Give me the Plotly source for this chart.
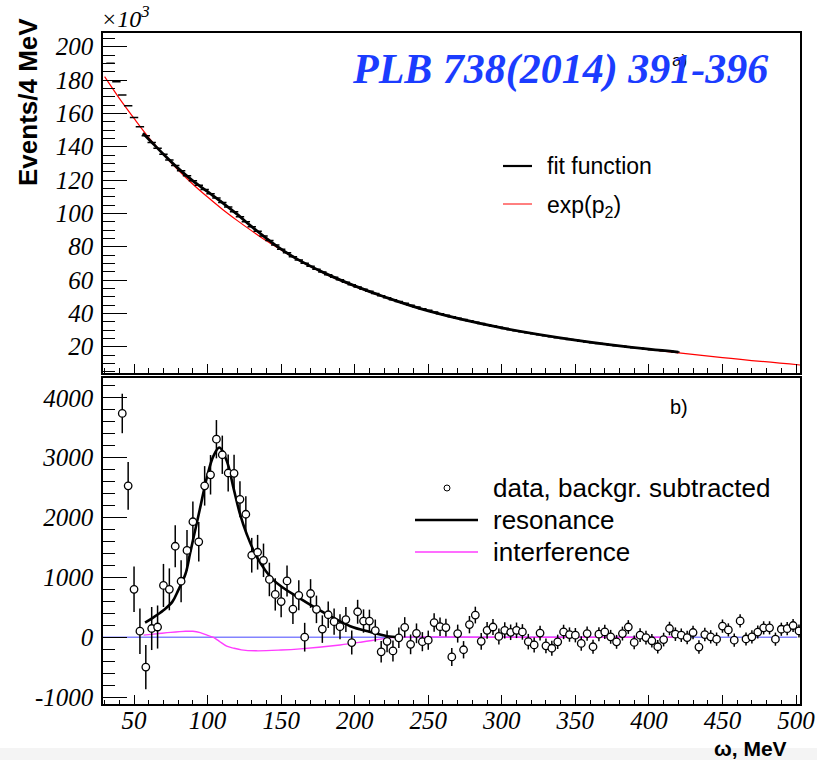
import plotly.graph_objects as go

W, H = 817, 760

# ---------------- upper panel: raw spectrum (thousands of events / 4 MeV) ----------------
top_bins = list(range(34, 419, 4))
top_counts = [
    190.0, 179.0, 171.0, 164.5, 157.5, 152.0, 146.5, 142.5, 139.0, 135.5,
    132.0, 128.7, 125.5, 122.5, 119.5, 116.8, 114.3, 111.8, 109.2, 106.5,
    103.8, 101.0, 98.0, 95.0, 92.0, 89.2, 86.4, 83.7, 81.0, 78.5,
    76.3, 74.0, 72.0, 70.1, 68.2, 66.5, 64.8, 63.2, 61.7, 60.2,
    58.7, 57.2, 55.8, 54.5, 53.2, 51.9, 50.6, 49.4, 48.2, 47.1,
    46.0, 44.9, 43.8, 42.8, 41.8, 40.8, 39.8, 38.9, 38.0, 37.1,
    36.3, 35.5, 34.7, 33.9, 33.1, 32.4, 31.6, 30.9, 30.2, 29.6,
    28.9, 28.3, 27.7, 27.1, 26.5, 25.9, 25.4, 24.9, 24.3, 23.8,
    23.3, 22.8, 22.4, 21.9, 21.5, 21.0, 20.6, 20.2, 19.8, 19.4,
    19.0, 18.6, 18.2, 17.9, 17.5, 17.2, 16.8,
]

fit_x = [56, 60, 70, 80, 90, 100, 110, 120, 130, 140, 150, 160, 180, 200, 220, 250, 300, 350, 400, 420]
fit_y = [148.0, 144.5, 135.5, 127.0, 119.5, 113.0, 106.5, 99.5, 92.0, 85.0, 78.5, 73.0, 64.0, 56.5,
         50.0, 41.5, 31.3, 24.0, 18.5, 16.8]

bkg_x = [30, 40, 50, 60, 70, 80, 90, 100, 110, 120, 130, 140, 150, 160, 180, 200, 220, 250, 300,
         350, 400, 450, 503]
bkg_y = [182.0, 169.0, 157.0, 145.5, 135.3, 126.0, 117.5, 109.8, 102.5, 95.8, 89.5, 83.5, 78.0,
         72.8, 63.7, 56.2, 49.8, 41.4, 31.2, 23.9, 18.4, 13.5, 9.0]

top_yticks = [20, 40, 60, 80, 100, 120, 140, 160, 180, 200]
top_yticktext = ["20", "40", "60", "80", "100", "120", "140", "160", "180", "200"]

# ---------------- lower panel: background-subtracted spectrum ----------------
sub_bins = list(range(42, 503, 4))
sub_counts = [
    3740, 2530, 800, 100, -500, 145, 170, 865, 800, 1520,
    935, 1450, 1930, 1595, 2530, 2715, 3310, 3050, 2745, 2740,
    2305, 2055, 1370, 1420, 1285, 965, 715, 595, 940, 470,
    700, 0, 730, 465, 135, 375, 260, 175, 295, -90,
    425, 270, 270, 110, -245, -70, -230, -10, 165, -120,
    65, -75, -50, 245, 175, 160, -330, 60, -210, 210,
    370, -70, 115, 170, 12, 115, 82, 115, 88, -75,
    -130, 68, -145, -185, -78, 88, 44, 33, -105, 60,
    -160, 50, 88, 6, -78, 60, 170, -88, 33, -6,
    -60, -160, -40, 145, 50, 33, -6, 78, -165, 44,
    6, -33, 185, 122, -50, 272, -30, 6, 86, 156,
    156, -33, 133, 142, 195, 104,
]
sub_errors = [
    330, 400, 380, 380, 370, 360, 360, 360, 350, 350,
    350, 340, 340, 330, 330, 330, 320, 320, 310, 310,
    300, 300, 290, 290, 280, 280, 270, 260, 260, 250,
    250, 240, 240, 230, 230, 220, 220, 210, 210, 200,
    200, 195, 190, 185, 180, 180, 175, 170, 170, 165,
    165, 160, 160, 155, 155, 150, 150, 150, 145, 145,
    140, 140, 140, 135, 135, 135, 130, 130, 130, 130,
    125, 125, 125, 125, 120, 120, 120, 120, 120, 120,
    118, 118, 118, 116, 116, 116, 115, 115, 115, 115,
    114, 114, 114, 113, 113, 113, 112, 112, 112, 112,
    111, 111, 111, 110, 110, 110, 110, 110, 110, 110,
    110, 110, 110, 110, 110, 110,
]

res_x = [57.5, 63, 70, 76, 80, 85, 88, 90.5, 95, 99.5, 104, 108, 113, 117.5, 122, 126.5, 133.5,
         145, 163, 185, 197, 210, 222, 230]
res_y = [244, 328, 450, 590, 783, 1060, 1390, 1670, 2170, 2670, 3030, 3170, 2950, 2505, 2060,
         1730, 1340, 950, 644, 330, 183, 89, 17, 0]

int_x = [56.5, 65, 75, 85, 90, 95, 100, 104, 108, 113, 118, 123, 133, 150, 163, 190, 205, 213,
         222, 228, 300, 418]
int_y = [35, 55, 80, 98, 98, 75, 30, -5, -70, -150, -185, -212, -228, -215, -195, -130, -80,
         -50, -15, 0, 0, 0]

bot_yticks = [-1000, 0, 1000, 2000, 3000, 4000]
bot_yticktext = ["-1000", "0", "1000", "2000", "3000", "4000"]
x_ticks = [50, 100, 150, 200, 250, 300, 350, 400, 450, 500]
x_ticktext = ["50", "100", "150", "200", "250", "300", "350", "400", "450", "500"]

X_RANGE = [28.9, 502.7]


def px(x):
    return x / W


def py(y):
    return 1 - y / H


def italic(labels):
    return ["<i>%s</i>" % t for t in labels]


tick_font = dict(family="Liberation Serif", size=25, color="black")

fig = go.Figure()

# upper panel
fig.add_trace(go.Scatter(
    x=bkg_x, y=bkg_y, mode="lines", line=dict(color="#ff0000", width=1.2, shape="spline"),
    xaxis="x", yaxis="y", showlegend=False, hoverinfo="skip"))
fig.add_trace(go.Scatter(
    x=top_bins, y=top_counts, mode="markers",
    marker=dict(symbol="line-ew", size=6, line=dict(color="black", width=1.5)),
    xaxis="x", yaxis="y", showlegend=False))
fig.add_trace(go.Scatter(
    x=fit_x, y=fit_y, mode="lines", line=dict(color="black", width=2.8, shape="spline"),
    xaxis="x", yaxis="y", showlegend=False))

# lower panel
fig.add_trace(go.Scatter(
    x=int_x, y=int_y, mode="lines", line=dict(color="#ff3cff", width=1.4, shape="spline"),
    xaxis="x2", yaxis="y2", showlegend=False))
fig.add_trace(go.Scatter(
    x=res_x, y=res_y, mode="lines", line=dict(color="black", width=2.6, shape="spline"),
    xaxis="x2", yaxis="y2", showlegend=False))
fig.add_trace(go.Scatter(
    x=sub_bins, y=sub_counts, mode="markers",
    error_y=dict(type="data", array=sub_errors, visible=True, color="black", thickness=1.5, width=0),
    marker=dict(symbol="circle", size=7.5, color="white", line=dict(color="black", width=1.3)),
    xaxis="x2", yaxis="y2", showlegend=False))

common_x = dict(
    range=X_RANGE, tickvals=x_ticks, ticks="inside", ticklen=9, tickwidth=1.3, tickcolor="black",
    minor=dict(dtick=10, tick0=0, ticks="inside", ticklen=4.5, tickwidth=1.2, tickcolor="black"),
    showline=True, linecolor="black", linewidth=1.5, mirror=True, showgrid=False, zeroline=False,
    automargin=False,
)

fig.update_layout(
    width=W, height=H,
    margin=dict(l=0, r=0, t=0, b=0, autoexpand=False),
    paper_bgcolor="white", plot_bgcolor="white",
    xaxis=dict(domain=[px(103), px(800)], anchor="y", showticklabels=False, **common_x),
    yaxis=dict(
        domain=[py(372.7), py(32.7)], anchor="x", range=[4.4, 208.4],
        tickvals=top_yticks, ticktext=italic(top_yticktext), ticks="inside", ticklen=24,
        tickwidth=1.3, tickcolor="black",
        minor=dict(dtick=5, tick0=0, ticks="inside", ticklen=12, tickwidth=1.2, tickcolor="black"),
        tickfont=tick_font, ticklabelstandoff=3, automargin=False,
        showline=True, linecolor="black", linewidth=1.5, mirror=True, showgrid=False, zeroline=False,
    ),
    xaxis2=dict(domain=[px(103), px(800)], anchor="y2", tickfont=tick_font, ticklabelstandoff=-7,
                ticktext=italic(x_ticktext), **common_x),
    yaxis2=dict(
        domain=[py(704), py(378)], anchor="x2", range=[-1117, 4333],
        tickvals=bot_yticks, ticktext=italic(bot_yticktext), ticks="inside", ticklen=24,
        tickwidth=1.3, tickcolor="black",
        minor=dict(dtick=200, tick0=0, ticks="inside", ticklen=12, tickwidth=1.2, tickcolor="black"),
        tickfont=tick_font, ticklabelstandoff=3, automargin=False,
        showline=True, linecolor="black", linewidth=1.5, mirror=True, showgrid=False, zeroline=False,
    ),
)

shapes = [
    # light strip along the bottom edge of the canvas
    dict(type="rect", xref="paper", yref="paper", x0=0, x1=1, y0=0, y1=py(748),
         fillcolor="#f4f4f4", line=dict(width=0), layer="below"),
    # zero baseline of the lower panel
    dict(type="line", xref="x2 domain", yref="y2", x0=0, x1=0.996, y0=0, y1=0,
         line=dict(color="#8383ff", width=1.6), layer="below"),
    # legend swatches, upper panel
    dict(type="line", xref="paper", yref="paper", x0=px(503), x1=px(532), y0=py(166), y1=py(166),
         line=dict(color="black", width=2.2)),
    dict(type="line", xref="paper", yref="paper", x0=px(503), x1=px(532), y0=py(204), y1=py(204),
         line=dict(color="#ff0000", width=1)),
    # legend swatches, lower panel
    dict(type="circle", xref="paper", yref="paper", x0=px(444), x1=px(450), y0=py(485), y1=py(491),
         line=dict(color="black", width=1), fillcolor="white"),
    dict(type="line", xref="paper", yref="paper", x0=px(415), x1=px(478), y0=py(520), y1=py(520),
         line=dict(color="black", width=2.4)),
    dict(type="line", xref="paper", yref="paper", x0=px(415), x1=px(478), y0=py(552), y1=py(552),
         line=dict(color="#ff3cff", width=1.3)),
]

legend_font_top = dict(family="Liberation Sans", size=23, color="black")
legend_font_bot = dict(family="Liberation Sans", size=26, color="black")

annotations = [
    dict(text="a)", x=px(670), y=py(61), xref="paper", yref="paper", xanchor="left", yanchor="middle",
         showarrow=False, font=dict(family="Liberation Sans", size=17, color="black")),
    dict(text="<b><i>PLB 738(2014) 391-396</i></b>", x=px(560), y=py(70), xref="paper", yref="paper",
         xanchor="center", yanchor="middle", showarrow=False,
         font=dict(family="Liberation Serif", size=42, color="#1b3cff")),
    dict(text="<i>×10<sup>3</sup></i>", x=px(99), y=py(17), xref="paper", yref="paper",
         xanchor="left", yanchor="middle", showarrow=False,
         font=dict(family="Liberation Serif", size=24, color="black")),
    dict(text="<b>Events/4 MeV</b>", x=px(28), y=py(102), xref="paper", yref="paper",
         xanchor="center", yanchor="middle", textangle=-90, showarrow=False,
         font=dict(family="Liberation Sans", size=26, color="black")),
    dict(text="fit function", x=px(545), y=py(166), xref="paper", yref="paper", xanchor="left",
         yanchor="middle", showarrow=False, font=legend_font_top),
    dict(text="exp(p<sub>2</sub>)", x=px(545), y=py(206), xref="paper", yref="paper", xanchor="left",
         yanchor="middle", showarrow=False, font=legend_font_top),
    dict(text="b)", x=px(668), y=py(407), xref="paper", yref="paper", xanchor="left", yanchor="middle",
         showarrow=False, font=dict(family="Liberation Sans", size=20, color="black")),
    dict(text="data, backgr. subtracted", x=px(491), y=py(488), xref="paper", yref="paper",
         xanchor="left", yanchor="middle", showarrow=False, font=legend_font_bot),
    dict(text="resonance", x=px(491), y=py(520), xref="paper", yref="paper", xanchor="left",
         yanchor="middle", showarrow=False, font=legend_font_bot),
    dict(text="interference", x=px(491), y=py(552), xref="paper", yref="paper", xanchor="left",
         yanchor="middle", showarrow=False, font=legend_font_bot),
    dict(text="<b>ω, MeV</b>", x=px(789), y=py(748), xref="paper", yref="paper", xanchor="right",
         yanchor="middle", showarrow=False, font=dict(family="Liberation Sans", size=21, color="black")),
]

fig.update_layout(shapes=shapes, annotations=annotations)

fig.write_html("out.html")
